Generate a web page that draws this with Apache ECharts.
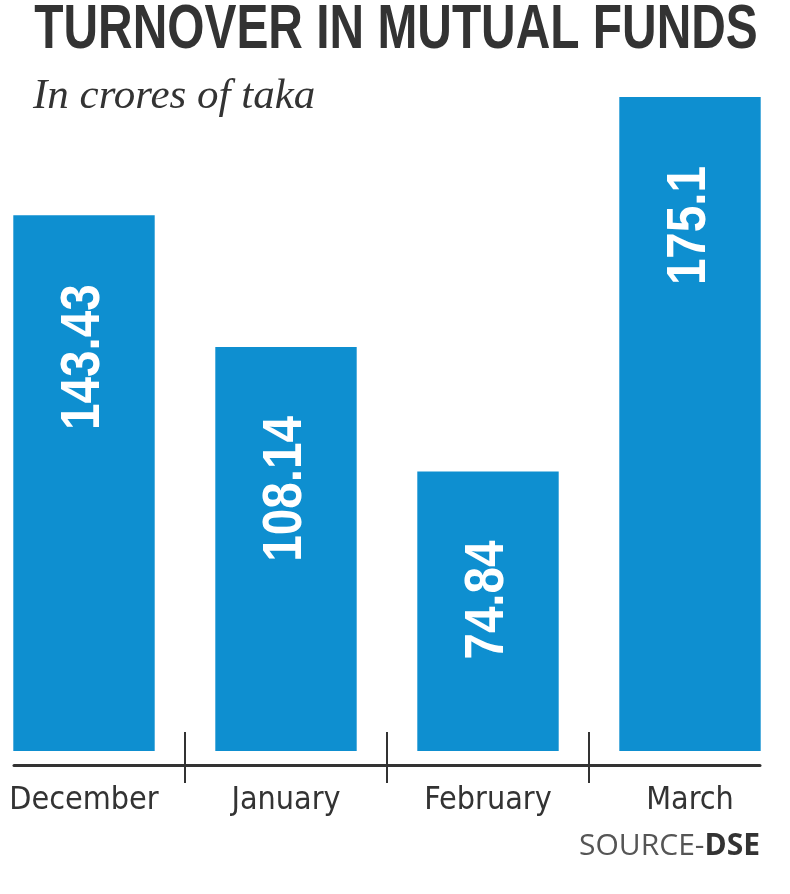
<!DOCTYPE html>
<html>
<head>
<meta charset="utf-8">
<script src="https://cdn.jsdelivr.net/npm/echarts@6/dist/echarts.min.js"></script>
<style>
html,body{margin:0;padding:0;background:#fff;}
#chart{width:790px;height:894px;}
</style>
</head>
<body>
<div id="chart"></div>
<script>
const titleText = 'TURNOVER IN MUTUAL FUNDS';
const subtitleText = 'In crores of taka';
const categories = ['December', 'January', 'February', 'March'];
const turnover = [143.43, 108.14, 74.84, 175.1];
const valueLabels = ['143.43', '108.14', '74.84', '175.1'];
const sourcePrefix = 'SOURCE-';
const sourceName = 'DSE';

const condensed = "'DejaVu Sans Condensed', 'Liberation Sans Narrow', sans-serif";
const ink = '#333333';

const chart = echarts.init(document.getElementById('chart'), null, {renderer: 'canvas'});
chart.setOption({
  backgroundColor: '#ffffff',
  animation: false,
  title: [
    {
      text: subtitleText,
      left: 33,
      top: 75,
      padding: 0,
      textStyle: {fontFamily: "'Liberation Serif', 'DejaVu Serif', serif", fontStyle: 'italic', fontWeight: 'normal', fontSize: 43, color: ink}
    },
    {
      text: '{a|' + sourcePrefix + '}{b|' + sourceName + '}',
      right: 30,
      top: 831,
      padding: 0,
      textStyle: {
        rich: {
          a: {fontFamily: "'Open Sans', 'Noto Sans', sans-serif", fontSize: 30, fontWeight: 'normal', color: '#555555'},
          b: {fontFamily: "'Open Sans', 'Noto Sans', sans-serif", fontSize: 30, fontWeight: 'bold', color: ink}
        }
      }
    }
  ],
  graphic: [
    {
      type: 'text',
      x: 396,
      y: -1,
      scaleX: 0.76,
      style: {
        text: titleText,
        fill: ink,
        font: "bold 63px 'Liberation Sans', Arial, sans-serif",
        align: 'center',
        verticalAlign: 'top'
      }
    }
  ],
  grid: [
    {left: -17, right: -1, top: 4, bottom: 143, containLabel: false, outerBoundsMode: 'none'},
    {left: 14, right: 30, top: 4, bottom: 143, containLabel: false, outerBoundsMode: 'none'}
  ],
  xAxis: [
    {
      type: 'category', gridIndex: 0, position: 'bottom', data: categories, offset: 14,
      axisLine: {show: false, onZero: false},
      axisTick: {show: true, inside: true, length: 33, interval: 0, lineStyle: {color: ink, width: 2}},
      axisLabel: {fontFamily: condensed, fontSize: 32, color: ink, margin: 20, interval: 0},
      splitLine: {show: false}
    },
    {
      type: 'category', gridIndex: 0, position: 'bottom', data: categories, offset: 14,
      axisLine: {show: false, onZero: false},
      axisTick: {show: true, inside: false, length: 18, interval: 0, lineStyle: {color: ink, width: 2}},
      axisLabel: {show: false},
      splitLine: {show: false}
    },
    {
      type: 'category', gridIndex: 1, position: 'bottom', data: categories, offset: 14,
      axisLine: {show: true, onZero: false, lineStyle: {color: ink, width: 3}},
      axisTick: {show: false},
      axisLabel: {show: false},
      splitLine: {show: false}
    }
  ],
  yAxis: [
    {type: 'value', gridIndex: 0, min: 0, max: 200, show: false},
    {type: 'value', gridIndex: 1, min: 0, max: 200, show: false}
  ],
  series: [
    {
      type: 'bar',
      xAxisIndex: 0,
      yAxisIndex: 0,
      data: turnover,
      barWidth: '70%',
      itemStyle: {color: '#0e8fd0'},
      label: {show: false}
    },
    {
      type: 'custom',
      xAxisIndex: 0,
      yAxisIndex: 0,
      data: turnover.map(function (v, i) { return [i, v]; }),
      encode: {x: 0, y: 1},
      z: 5,
      silent: true,
      renderItem: function (params, api) {
        const pt = api.coord([api.value(0), api.value(1)]);
        return {
          type: 'text',
          x: pt[0],
          y: pt[1] + 69,
          rotation: Math.PI / 2,
          scaleX: 0.85,
          style: {
            text: valueLabels[params.dataIndex],
            fill: '#ffffff',
            font: "bold 56px 'Liberation Sans', Arial, sans-serif",
            align: 'right',
            verticalAlign: 'middle'
          }
        };
      }
    }
  ]
});
</script>
</body>
</html>
